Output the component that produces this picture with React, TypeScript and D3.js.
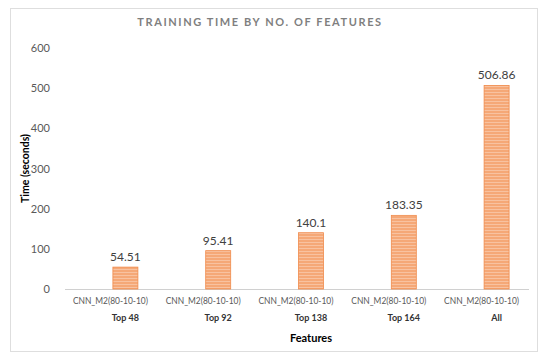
import React from 'react';
import * as d3 from 'd3';

const categories = ['Top 48', 'Top 92', 'Top 138', 'Top 164', 'All'];
const modelLabel = 'CNN_M2(80-10-10)';
const trainingTime = [54.51, 95.41, 140.1, 183.35, 506.86];
const yTicks = [0, 100, 200, 300, 400, 500, 600];

const W = 550;
const H = 359;
const font = 'Lato, "Open Sans", sans-serif';

const App = () => {
  const x = d3.scaleBand().domain(categories).range([65, 529]).padding(0);
  const y = d3.scaleLinear().domain([0, 600]).range([289, 48]);
  // Excel style: bar shifted right within its category slot
  const barW = 25;
  const barShift = 14;

  return (
    <svg width={W} height={H} style={{ position: 'absolute', left: 0, top: 0 }} fontFamily={font}>
      <defs>
        <pattern id="stripes" width="4" height="3" patternUnits="userSpaceOnUse">
          <rect width="4" height="3" fill="#F5A877" />
          <rect y="2" width="4" height="1" fill="#F8C2A0" />
        </pattern>
      </defs>
      <rect x={0} y={0} width={W} height={H} fill="#fff" />
      <rect x={10.5} y={8.5} width={527} height={343} fill="#fff" stroke="#dedede" />

      <text x={260} y={26} textAnchor="middle" fontSize="11" fontWeight="bold"
        fill="#7f7f7f" letterSpacing="1.6">
        TRAINING TIME BY NO. OF FEATURES
      </text>

      {yTicks.map(t => (
        <text key={t} x={50} y={y(t) + 4} textAnchor="end" fontSize="11" fill="#595959">
          {t}
        </text>
      ))}

      <text transform={`translate(29,${y(300)}) rotate(-90)`} textAnchor="middle"
        fontSize="10.5" fontWeight="bold" fill="#000">
        Time (seconds)
      </text>

      <line x1={65} x2={529} y1={y(0) + 0.5} y2={y(0) + 0.5} stroke="#d0d0d0" />

      {categories.map((c, i) => {
        const cx = (x(c) as number) + x.bandwidth() / 2;
        const bx = cx + barShift;
        const v = trainingTime[i];
        return (
          <g key={c}>
            <rect x={bx - barW / 2} y={y(v)} width={barW} height={y(0) - y(v)}
              fill="url(#stripes)" stroke="#F08A4B" strokeWidth="0.8" />
            <text x={bx} y={y(v) - 6} textAnchor="middle" fontSize="12" fill="#404040">
              {v}
            </text>
            <text x={cx - 1} y={304} textAnchor="middle" fontSize="9.5" fill="#595959"
              textLength={75} lengthAdjust="spacingAndGlyphs">
              {modelLabel}
            </text>
            <text x={bx} y={321} textAnchor="middle" fontSize="9" fontWeight="bold" fill="#333">
              {c}
            </text>
          </g>
        );
      })}

      <text x={311} y={342} textAnchor="middle" fontSize="11" fontWeight="bold" fill="#000">
        Features
      </text>
    </svg>
  );
};

export default App;
